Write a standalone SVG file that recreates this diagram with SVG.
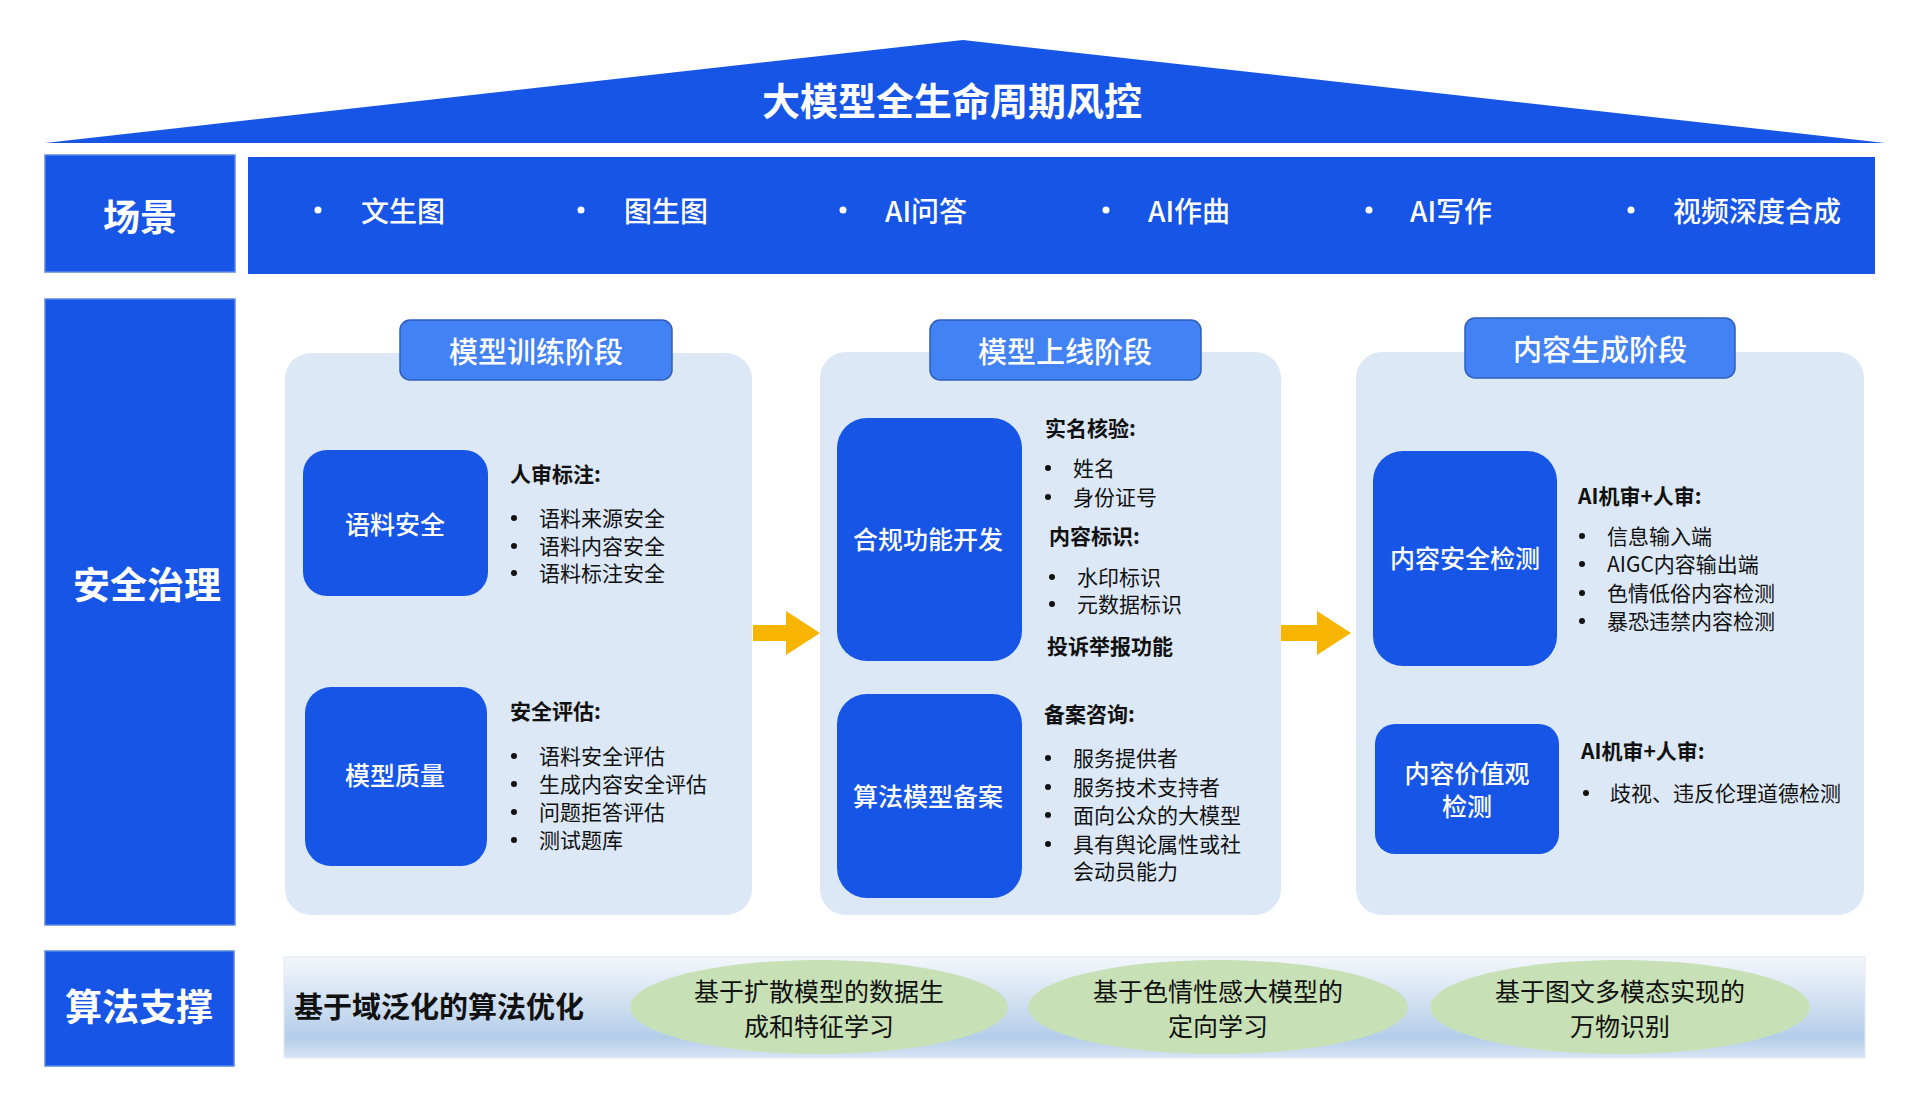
<svg xmlns="http://www.w3.org/2000/svg" width="1919" height="1112" viewBox="0 0 1919 1112">
  <defs>
    <linearGradient id="bandGrad" x1="0" y1="0" x2="0" y2="1">
      <stop offset="0" stop-color="#F4F7FC"/>
      <stop offset="0.5" stop-color="#CCDDF0"/>
      <stop offset="0.8" stop-color="#B3CDE9"/>
      <stop offset="1" stop-color="#D8E5F4"/>
    </linearGradient>
    <marker id="yArrow" markerUnits="userSpaceOnUse" markerWidth="34" markerHeight="44" refX="0" refY="22" orient="auto">
      <path d="M0,0 L34,22 L0,44 Z" fill="#F7B500"/>
    </marker>
  </defs>
  <style>
    .blue { fill: #1655E6; }
    .lbl { font-family: "Noto Sans CJK SC", sans-serif; font-size: 37px; font-weight: 700; fill: #FFFFFF; text-anchor: middle; dominant-baseline: central; }
    .title { font-size: 38px; }
    .scene { font-family: "Noto Sans CJK SC", sans-serif; font-size: 28px; font-weight: 500; fill: #FFFFFF; dominant-baseline: central; }
    .panel { fill: #DCE8F5; }
    .hdr { fill: #4282F5; stroke: #2E5FB8; stroke-width: 1.5; }
    .hdrt { font-family: "Noto Sans CJK SC", sans-serif; font-size: 29px; font-weight: 500; fill: #FFFFFF; text-anchor: middle; dominant-baseline: central; }
    .box { fill: #1655E6; }
    .boxt { font-family: "Noto Sans CJK SC", sans-serif; font-size: 25px; font-weight: 500; fill: #FFFFFF; text-anchor: middle; dominant-baseline: central; }
    .h { font-family: "Noto Sans CJK SC", sans-serif; font-size: 21px; font-weight: 700; fill: #111111; dominant-baseline: central; }
    .band { font-size: 29px; }
    .li { font-family: "Noto Sans CJK SC", sans-serif; font-size: 21px; font-weight: 400; fill: #111111; dominant-baseline: central; }
    .dot { fill: #111111; }
    .ell { fill: #C7E0B5; }
    .ellt { font-family: "Noto Sans CJK SC", sans-serif; font-size: 25px; font-weight: 400; fill: #111111; text-anchor: middle; dominant-baseline: central; }
  </style>
  <rect width="1919" height="1112" fill="#FFFFFF"/>

  <!-- Roof -->
  <g id="roof">
    <polygon points="963,40 1885,143 45,143" class="blue"/>
    <text x="952" y="98" class="lbl title">大模型全生命周期风控</text>
  </g>

  <!-- Scenes row -->
  <g id="scene-label">
    <rect x="45" y="155" width="190" height="117" class="blue" stroke="#5B86E0" stroke-width="1.5"/>
    <text x="140" y="215" class="lbl">场景</text>
  </g>
  <g id="scene-bar">
    <rect x="248" y="157" width="1627" height="117" class="blue"/>
    <circle cx="318" cy="210" r="3.5" fill="#FFFFFF"/>
    <text x="361" y="210" class="scene">文生图</text>
    <circle cx="581" cy="210" r="3.5" fill="#FFFFFF"/>
    <text x="624" y="210" class="scene">图生图</text>
    <circle cx="843" cy="210" r="3.5" fill="#FFFFFF"/>
    <text x="885" y="210" class="scene">AI问答</text>
    <circle cx="1106" cy="210" r="3.5" fill="#FFFFFF"/>
    <text x="1148" y="210" class="scene">AI作曲</text>
    <circle cx="1369" cy="210" r="3.5" fill="#FFFFFF"/>
    <text x="1410" y="210" class="scene">AI写作</text>
    <circle cx="1631" cy="210" r="3.5" fill="#FFFFFF"/>
    <text x="1673" y="210" class="scene">视频深度合成</text>
  </g>

  <!-- Safety governance -->
  <g id="governance-label">
    <rect x="45" y="299" width="190" height="626" class="blue" stroke="#5B86E0" stroke-width="1.5"/>
    <text x="147" y="583" class="lbl">安全治理</text>
  </g>

  <!-- Stage 1 -->
  <g id="stage-training">
    <rect x="285" y="353" width="467" height="562" rx="26" class="panel"/>
    <rect x="400" y="320" width="272" height="60" rx="10" class="hdr"/>
    <text x="536" y="350" class="hdrt">模型训练阶段</text>
  </g>
  <g id="corpus-safety">
    <rect x="303" y="450" width="185" height="146" rx="24" class="box"/>
    <text x="395" y="523" class="boxt">语料安全</text>
    <text x="510" y="473" class="h">人审标注:</text>
    <circle cx="514" cy="518" r="3" class="dot"/><text x="539" y="517" class="li">语料来源安全</text>
    <circle cx="514" cy="546" r="3" class="dot"/><text x="539" y="545" class="li">语料内容安全</text>
    <circle cx="514" cy="573" r="3" class="dot"/><text x="539" y="572" class="li">语料标注安全</text>
  </g>
  <g id="model-quality">
    <rect x="305" y="687" width="182" height="179" rx="26" class="box"/>
    <text x="395" y="774" class="boxt">模型质量</text>
    <text x="510" y="710" class="h">安全评估:</text>
    <circle cx="514" cy="756" r="3" class="dot"/><text x="539" y="755" class="li">语料安全评估</text>
    <circle cx="514" cy="784" r="3" class="dot"/><text x="539" y="783" class="li">生成内容安全评估</text>
    <circle cx="514" cy="812" r="3" class="dot"/><text x="539" y="811" class="li">问题拒答评估</text>
    <circle cx="514" cy="840" r="3" class="dot"/><text x="539" y="839" class="li">测试题库</text>
  </g>

  <!-- Stage 2 -->
  <g id="stage-online">
    <rect x="820" y="352" width="461" height="563" rx="26" class="panel"/>
    <rect x="930" y="320" width="271" height="60" rx="10" class="hdr"/>
    <text x="1065" y="350" class="hdrt">模型上线阶段</text>
  </g>
  <g id="compliance-dev">
    <rect x="837" y="418" width="185" height="243" rx="30" class="box"/>
    <text x="928" y="538" class="boxt">合规功能开发</text>
    <text x="1045" y="427" class="h">实名核验:</text>
    <circle cx="1048" cy="468" r="3" class="dot"/><text x="1073" y="467" class="li">姓名</text>
    <circle cx="1048" cy="497" r="3" class="dot"/><text x="1073" y="496" class="li">身份证号</text>
    <text x="1049" y="535" class="h">内容标识:</text>
    <circle cx="1052" cy="577" r="3" class="dot"/><text x="1077" y="576" class="li">水印标识</text>
    <circle cx="1052" cy="604" r="3" class="dot"/><text x="1077" y="603" class="li">元数据标识</text>
    <text x="1047" y="645" class="h">投诉举报功能</text>
  </g>
  <g id="algorithm-filing">
    <rect x="837" y="694" width="185" height="204" rx="30" class="box"/>
    <text x="928" y="795" class="boxt">算法模型备案</text>
    <text x="1044" y="713" class="h">备案咨询:</text>
    <circle cx="1048" cy="758" r="3" class="dot"/><text x="1073" y="757" class="li">服务提供者</text>
    <circle cx="1048" cy="787" r="3" class="dot"/><text x="1073" y="786" class="li">服务技术支持者</text>
    <circle cx="1048" cy="815" r="3" class="dot"/><text x="1073" y="814" class="li">面向公众的大模型</text>
    <circle cx="1048" cy="844" r="3" class="dot"/><text x="1073" y="843" class="li">具有舆论属性或社</text>
    <text x="1073" y="870" class="li">会动员能力</text>
  </g>

  <!-- Stage 3 -->
  <g id="stage-generation">
    <rect x="1356" y="352" width="508" height="563" rx="26" class="panel"/>
    <rect x="1465" y="318" width="270" height="60" rx="10" class="hdr"/>
    <text x="1600" y="348" class="hdrt">内容生成阶段</text>
  </g>
  <g id="content-safety">
    <rect x="1373" y="451" width="184" height="215" rx="30" class="box"/>
    <text x="1465" y="557" class="boxt">内容安全检测</text>
    <text x="1578" y="495" class="h">AI机审+人审:</text>
    <circle cx="1582" cy="536" r="3" class="dot"/><text x="1607" y="535" class="li">信息输入端</text>
    <circle cx="1582" cy="564" r="3" class="dot"/><text x="1607" y="563" class="li">AIGC内容输出端</text>
    <circle cx="1582" cy="593" r="3" class="dot"/><text x="1607" y="592" class="li">色情低俗内容检测</text>
    <circle cx="1582" cy="621" r="3" class="dot"/><text x="1607" y="620" class="li">暴恐违禁内容检测</text>
  </g>
  <g id="content-values">
    <rect x="1375" y="724" width="184" height="130" rx="20" class="box"/>
    <text x="1467" y="772" class="boxt">内容价值观</text>
    <text x="1467" y="805" class="boxt">检测</text>
    <text x="1581" y="750" class="h">AI机审+人审:</text>
    <circle cx="1586" cy="793" r="3" class="dot"/><text x="1610" y="792" class="li">歧视、违反伦理道德检测</text>
  </g>

  <!-- Connectors -->
  <g id="connectors">
    <line x1="753" y1="633" x2="786" y2="633" stroke="#F7B500" stroke-width="16" marker-end="url(#yArrow)"/>
    <line x1="1281" y1="633" x2="1317" y2="633" stroke="#F7B500" stroke-width="16" marker-end="url(#yArrow)"/>
  </g>

  <!-- Algorithm support -->
  <g id="algorithm-label">
    <rect x="45" y="951" width="189" height="115" class="blue" stroke="#5B86E0" stroke-width="1.5"/>
    <text x="139" y="1005" class="lbl">算法支撑</text>
  </g>
  <g id="algorithm-band">
    <rect x="284" y="957" width="1581" height="101" fill="url(#bandGrad)" stroke="#E2E8F0" stroke-width="1"/>
    <text x="294" y="1005" class="h band">基于域泛化的算法优化</text>
  </g>
  <g id="ellipse-diffusion">
    <ellipse cx="819" cy="1007" rx="189" ry="47" class="ell"/>
    <text x="819" y="990" class="ellt">基于扩散模型的数据生</text>
    <text x="819" y="1025" class="ellt">成和特征学习</text>
  </g>
  <g id="ellipse-directed">
    <ellipse cx="1218" cy="1007" rx="190" ry="47" class="ell"/>
    <text x="1218" y="990" class="ellt">基于色情性感大模型的</text>
    <text x="1218" y="1025" class="ellt">定向学习</text>
  </g>
  <g id="ellipse-multimodal">
    <ellipse cx="1620" cy="1007" rx="190" ry="47" class="ell"/>
    <text x="1620" y="990" class="ellt">基于图文多模态实现的</text>
    <text x="1620" y="1025" class="ellt">万物识别</text>
  </g>
</svg>
